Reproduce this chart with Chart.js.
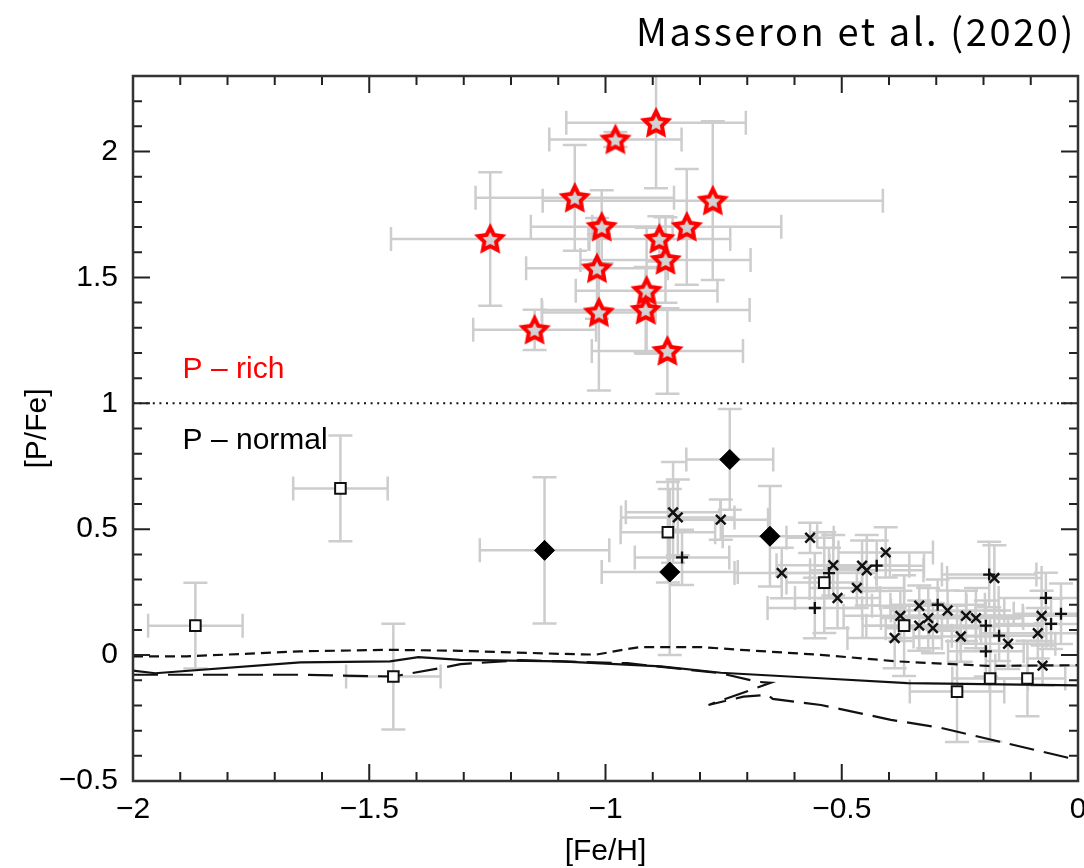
<!DOCTYPE html>
<html>
<head>
<meta charset="utf-8">
<script src="https://cdn.jsdelivr.net/npm/chart.js@4.4.1/dist/chart.umd.min.js"></script>
<style>
  html, body { margin: 0; padding: 0; background: #fff; }
</style>
</head>
<body>
<canvas id="chart" width="1084" height="868"></canvas>
<script>
// tick labels
const xTicks = [-2, -1.5, -1, -0.5, 0];
const yTicks = [-0.5, 0, 0.5, 1, 1.5, 2];

// rows: [Fe/H], [P/Fe], x error, y error
const pRich = [
  [-0.893, 2.114, 0.19, 0.26],
  [-0.979, 2.048, 0.14, 0.03],
  [-1.065, 1.816, 0.21, 0.21],
  [-0.773, 1.805, 0.36, 0.315],
  [-1.244, 1.653, 0.21, 0.265],
  [-1.008, 1.701, 0.15, 0.145],
  [-0.828, 1.701, 0.20, 0.23],
  [-0.886, 1.653, 0.15, 0.09],
  [-0.873, 1.569, 0.18, 0.17],
  [-1.018, 1.536, 0.15, 0.20],
  [-0.913, 1.447, 0.15, 0.25],
  [-0.915, 1.371, 0.22, 0.17],
  [-1.014, 1.361, 0.12, 0.31],
  [-1.150, 1.292, 0.13, 0.08],
  [-0.869, 1.208, 0.16, 0.17]
];

const squares = [
  [-1.868, 0.117, 0.10, 0.17],
  [-1.561, 0.662, 0.10, 0.21],
  [-1.449, -0.085, 0.10, 0.21],
  [-0.868, 0.488, 0.10, 0.20],
  [-0.537, 0.288, 0.08, 0.20],
  [-0.368, 0.117, 0.08, 0.20],
  [-0.256, -0.145, 0.10, 0.20],
  [-0.186, -0.093, 0.08, 0.25],
  [-0.107, -0.093, 0.08, 0.15]
];

const diamonds = [
  [-1.129, 0.416, 0.137, 0.29],
  [-0.737, 0.777, 0.092, 0.20],
  [-0.652, 0.472, 0.10, 0.20],
  [-0.864, 0.330, 0.144, 0.33]
];

const crosses = [
  [-0.857, 0.567, 0.10, 0.20],
  [-0.847, 0.547, 0.12, 0.15],
  [-0.756, 0.538, 0.10, 0.08],
  [-0.567, 0.466, 0.05, 0.06],
  [-0.627, 0.326, 0.10, 0.10],
  [-0.518, 0.357, 0.12, 0.12],
  [-0.509, 0.227, 0.09, 0.12],
  [-0.457, 0.355, 0.10, 0.10],
  [-0.447, 0.337, 0.12, 0.14],
  [-0.407, 0.408, 0.10, 0.10],
  [-0.468, 0.267, 0.10, 0.08],
  [-0.376, 0.156, 0.12, 0.10],
  [-0.388, 0.068, 0.10, 0.12],
  [-0.336, 0.196, 0.10, 0.08],
  [-0.336, 0.117, 0.12, 0.10],
  [-0.317, 0.147, 0.10, 0.12],
  [-0.307, 0.107, 0.10, 0.10],
  [-0.276, 0.177, 0.12, 0.08],
  [-0.248, 0.074, 0.10, 0.10],
  [-0.237, 0.156, 0.12, 0.10],
  [-0.216, 0.147, 0.10, 0.12],
  [-0.177, 0.306, 0.10, 0.13],
  [-0.148, 0.045, 0.10, 0.10],
  [-0.085, 0.087, 0.12, 0.10],
  [-0.077, 0.156, 0.10, 0.10],
  [-0.075, -0.042, 0.10, 0.08]
];

const pluses = [
  [-0.838, 0.388, 0.10, 0.11],
  [-0.557, 0.187, 0.10, 0.12],
  [-0.527, 0.326, 0.10, 0.10],
  [-0.426, 0.355, 0.10, 0.10],
  [-0.297, 0.200, 0.10, 0.10],
  [-0.195, 0.117, 0.12, 0.10],
  [-0.188, 0.320, 0.10, 0.13],
  [-0.167, 0.077, 0.10, 0.10],
  [-0.195, 0.015, 0.08, 0.10],
  [-0.068, 0.227, 0.10, 0.10],
  [-0.036, 0.164, 0.10, 0.12],
  [-0.057, 0.124, 0.12, 0.10]
];

// chemical evolution models
const modelSolid = [
  [-2, -0.062], [-1.953, -0.072], [-1.646, -0.029], [-1.456, -0.025], [-1.396, -0.008],
  [-1.307, -0.019], [-1.095, -0.025], [-0.883, -0.045], [-0.756, -0.070], [-0.545, -0.092],
  [-0.361, -0.111], [0, -0.120]
];
const modelShortDash = [
  [-2, -0.005], [-1.886, -0.005], [-1.646, 0.015], [-1.456, 0.021], [-1.307, 0.017],
  [-1.095, 0.005], [-1.02, 0.002], [-0.96, 0.022], [-0.926, 0.032], [-0.799, 0.032], [-0.714, 0.021],
  [-0.545, 0.001], [-0.382, -0.025], [-0.191, -0.043], [0, -0.040]
];
const modelLongDash = [
  [-2, -0.078], [-1.646, -0.078], [-1.45, -0.085], [-1.35, -0.052], [-1.307, -0.036],
  [-1.18, -0.020], [-1.095, -0.025], [-0.954, -0.032], [-0.756, -0.072], [-0.678, -0.106],
  [-0.650, -0.110], [-0.782, -0.198], [-0.708, -0.165], [-0.657, -0.158], [-0.646, -0.174],
  [-0.544, -0.198], [-0.396, -0.257], [-0.29, -0.289], [-0.163, -0.345], [0, -0.417]
];

const threshold = [[-2, 1], [0, 1]];

const notes = [
  { text: 'P – rich', x: -1.895, y: 1.10, color: '#ff0000' },
  { text: 'P – normal', x: -1.895, y: 0.817, color: '#000000' }
];

const chartTitle = 'Masseron et al. (2020)';

const FONT = "'Liberation Sans', Arial, sans-serif";

function pts(rows) {
  return rows.map(r => ({ x: r[0], y: r[1] }));
}

function errs(rows) {
  return rows.map(r => [r[2], r[3]]);
}

function fmt(v) {
  return String(v).replace('-', '\u2212');
}

function makeStar() {
  const c = document.createElement('canvas');
  c.width = 36;
  c.height = 36;
  const g = c.getContext('2d');
  g.beginPath();
  for (let i = 0; i < 10; i++) {
    const r = i % 2 === 0 ? 12.5 : 6.2;
    const a = -Math.PI / 2 + i * Math.PI / 5;
    g.lineTo(18 + r * Math.cos(a), 19 + r * Math.sin(a));
  }
  g.closePath();
  g.fillStyle = '#d2d2d2';
  g.fill();
  g.lineWidth = 4;
  g.strokeStyle = '#ff0000';
  g.stroke();
  return c;
}

// zero out the label overhang so the frame spans the full width
function fixPadding(s) {
  s.paddingLeft = 0;
  s.paddingRight = 0;
  s.paddingTop = 0;
  s.paddingBottom = 0;
  s.getPadding = () => ({ left: 0, right: 0, top: 0, bottom: 0 });
}

const errorBars = {
  id: 'errorBars',
  beforeDatasetsDraw(chart) {
    const { ctx, chartArea: a, scales: { x, y } } = chart;
    ctx.save();
    ctx.beginPath();
    ctx.rect(a.left, a.top, a.right - a.left, a.bottom - a.top);
    ctx.clip();
    ctx.strokeStyle = '#cdcdcd';
    ctx.lineWidth = 2.5;
    const cap = 12;
    chart.data.datasets.forEach(ds => {
      if (!ds.err) return;
      ds.data.forEach((p, i) => {
        const [ex, ey] = ds.err[i];
        const px = x.getPixelForValue(p.x);
        const py = y.getPixelForValue(p.y);
        const x0 = x.getPixelForValue(p.x - ex);
        const x1 = x.getPixelForValue(p.x + ex);
        const y0 = y.getPixelForValue(p.y - ey);
        const y1 = y.getPixelForValue(p.y + ey);
        ctx.beginPath();
        ctx.moveTo(x0, py); ctx.lineTo(x1, py);
        ctx.moveTo(x0, py - cap); ctx.lineTo(x0, py + cap);
        ctx.moveTo(x1, py - cap); ctx.lineTo(x1, py + cap);
        ctx.moveTo(px, y0); ctx.lineTo(px, y1);
        ctx.moveTo(px - cap, y0); ctx.lineTo(px + cap, y0);
        ctx.moveTo(px - cap, y1); ctx.lineTo(px + cap, y1);
        ctx.stroke();
      });
    });
    ctx.restore();
  }
};

const frame = {
  id: 'frame',
  afterDatasetsDraw(chart) {
    const { ctx, chartArea: a, scales: { x, y } } = chart;
    ctx.save();
    ctx.strokeStyle = '#222';
    ctx.lineWidth = 2;
    ctx.beginPath();
    for (let i = 0; i <= 20; i++) {
      const px = x.getPixelForValue(-2 + i * 0.1);
      const len = i % 5 === 0 ? 17 : 9;
      ctx.moveTo(px, a.bottom); ctx.lineTo(px, a.bottom - len);
      ctx.moveTo(px, a.top); ctx.lineTo(px, a.top + len);
    }
    for (let i = 0; i <= 28; i++) {
      const py = y.getPixelForValue(-0.5 + i * 0.1);
      const len = i % 5 === 0 ? 17 : 9;
      ctx.moveTo(a.left, py); ctx.lineTo(a.left + len, py);
      ctx.moveTo(a.right, py); ctx.lineTo(a.right - len, py);
    }
    ctx.stroke();
    ctx.lineWidth = 2.5;
    ctx.strokeStyle = '#333';
    ctx.strokeRect(a.left, a.top, a.right - a.left, a.bottom - a.top);

    ctx.font = '30px ' + FONT;
    ctx.textAlign = 'left';
    ctx.textBaseline = 'alphabetic';
    notes.forEach(n => {
      ctx.fillStyle = n.color;
      ctx.fillText(n.text, x.getPixelForValue(n.x), y.getPixelForValue(n.y));
    });

    // title in the top right corner
    ctx.font = "38px 'Noto Sans CJK JP', 'Noto Sans', sans-serif";
    ctx.fillStyle = '#000';
    ctx.textAlign = 'right';
    if ('letterSpacing' in ctx) ctx.letterSpacing = '2.6px';
    ctx.fillText(chartTitle, chart.width - 8, 46);
    ctx.restore();
  }
};

const lineStyle = { showLine: true, pointRadius: 0, borderColor: '#111', borderWidth: 2.2, fill: false, tension: 0 };

new Chart(document.getElementById('chart'), {
  type: 'scatter',
  data: {
    datasets: [
      { label: 'P-rich', data: pts(pRich), err: errs(pRich), pointStyle: makeStar(), pointRadius: 14 },
      { label: 'diamonds', data: pts(diamonds), err: errs(diamonds), pointStyle: 'rectRot', pointRadius: 10,
        backgroundColor: '#000', borderColor: '#000', borderWidth: 1 },
      { label: 'squares', data: pts(squares), err: errs(squares), pointStyle: 'rect', pointRadius: 7.5,
        backgroundColor: '#fff', borderColor: '#111', borderWidth: 2 },
      { label: 'crosses', data: pts(crosses), err: errs(crosses), pointStyle: 'crossRot', pointRadius: 6.8,
        borderColor: '#111', borderWidth: 2.5 },
      { label: 'pluses', data: pts(pluses), err: errs(pluses), pointStyle: 'cross', pointRadius: 6,
        borderColor: '#111', borderWidth: 2.3 },
      Object.assign({ label: 'solid', data: pts(modelSolid) }, lineStyle),
      Object.assign({ label: 'short dash', data: pts(modelShortDash), borderDash: [10, 6] }, lineStyle),
      Object.assign({ label: 'long dash', data: pts(modelLongDash), borderDash: [25, 10] }, lineStyle),
      Object.assign({ label: 'threshold', data: pts(threshold), borderDash: [2, 4.6] }, lineStyle, { borderWidth: 2 })
    ]
  },
  options: {
    responsive: false,
    animation: false,
    events: [],
    layout: { autoPadding: false, padding: { left: 0, right: 6, top: 76, bottom: 0 } },
    plugins: {
      legend: { display: false },
      tooltip: { enabled: false },
      title: { display: false }
    },
    scales: {
      x: {
        type: 'linear',
        min: -2,
        max: 0,
        afterBuildTicks: s => { s.ticks = xTicks.map(v => ({ value: v })); },
        afterFit: s => { s.height = 87; fixPadding(s); },
        grid: { display: false, drawTicks: false },
        border: { display: false },
        ticks: { padding: 11, color: '#000', maxRotation: 0, autoSkip: false,
          font: { family: FONT, size: 30 }, callback: v => fmt(v) },
        title: { display: true, text: '[Fe/H]', color: '#000',
          font: { family: FONT, size: 30, lineHeight: 1 }, padding: { top: 0, bottom: 1 } }
      },
      y: {
        type: 'linear',
        min: -0.5,
        max: 2.3,
        afterBuildTicks: s => { s.ticks = yTicks.map(v => ({ value: v })); },
        afterFit: s => { s.width = 133; fixPadding(s); },
        grid: { display: false, drawTicks: false },
        border: { display: false },
        ticks: { padding: 15, color: '#000', autoSkip: false,
          font: { family: FONT, size: 30 }, callback: v => fmt(v) },
        title: { display: true, text: '[P/Fe]', color: '#000',
          font: { family: FONT, size: 30, lineHeight: 1 }, padding: { top: 23, bottom: 0 } }
      }
    }
  },
  plugins: [errorBars, frame]
});
</script>
</body>
</html>
